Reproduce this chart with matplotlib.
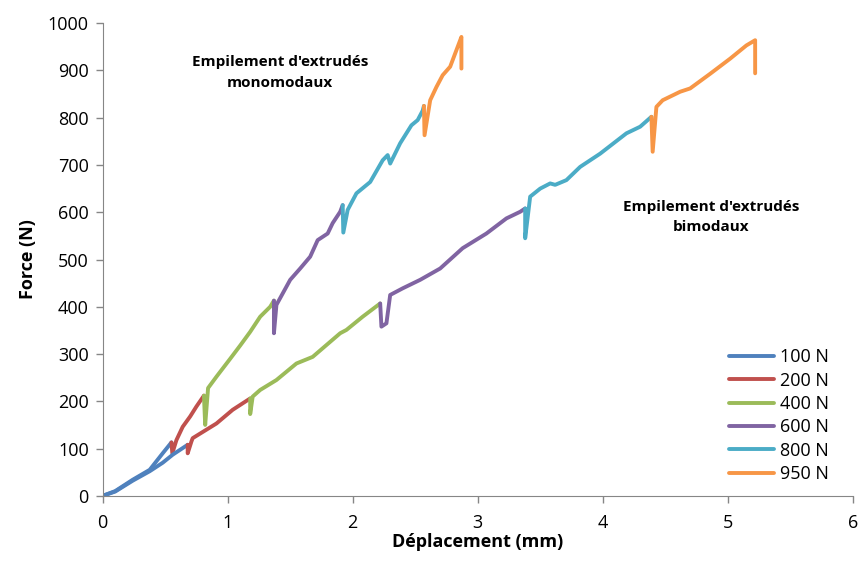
import matplotlib
matplotlib.use('Agg')
import matplotlib.pyplot as plt

# Palette Excel 2010
labels = ['100 N', '200 N', '400 N', '600 N', '800 N', '950 N']
colors = ['#4F81BD', '#C0504D', '#9BBB59', '#8064A2', '#4BACC6', '#F79646']

# Empilement d'extrudés monomodaux (une série par palier de charge)
mono_x = [
    [0.0, 0.10, 0.24, 0.376, 0.48, 0.55],
    [0.557, 0.59, 0.64, 0.70, 0.75, 0.81],
    [0.82, 0.843, 0.91, 1.02, 1.10, 1.18, 1.26, 1.34, 1.37],
    [1.37, 1.39, 1.50, 1.58, 1.66, 1.72, 1.80, 1.84, 1.90, 1.92],
    [1.925, 1.96, 2.03, 2.14, 2.24, 2.28, 2.30, 2.38, 2.47, 2.52, 2.56, 2.57],
    [2.575, 2.62, 2.67, 2.72, 2.78, 2.82, 2.86, 2.87, 2.87],
]
mono_y = [
    [0, 10, 34, 55, 90, 113],
    [90, 118, 146, 168, 189, 212],
    [150, 228, 252, 290, 318, 347, 379, 400, 413],
    [344, 404, 457, 481, 506, 541, 555, 577, 601, 615],
    [557, 605, 640, 664, 710, 721, 703, 746, 784, 795, 815, 825],
    [763, 837, 865, 890, 908, 936, 964, 971, 904],
]

# Empilement d'extrudés bimodaux
bi_x = [
    [0.0, 0.10, 0.24, 0.376, 0.48, 0.56, 0.68],
    [0.68, 0.71, 0.72, 0.91, 1.04, 1.18],
    [1.18, 1.20, 1.26, 1.39, 1.55, 1.68, 1.90, 1.95, 2.08, 2.22],
    [2.23, 2.27, 2.30, 2.40, 2.54, 2.70, 2.88, 3.07, 3.23, 3.34, 3.38],
    [3.38, 3.42, 3.50, 3.58, 3.62, 3.71, 3.82, 3.98, 4.19, 4.30, 4.39],
    [4.40, 4.43, 4.48, 4.62, 4.70, 4.86, 5.02, 5.15, 5.22, 5.22],
]
bi_y = [
    [0, 9, 32, 52, 70, 87, 108],
    [90, 115, 122, 153, 182, 206],
    [173, 210, 224, 245, 280, 294, 344, 351, 379, 407],
    [358, 365, 425, 439, 457, 481, 524, 555, 587, 601, 608],
    [545, 633, 650, 661, 658, 668, 696, 724, 767, 781, 802],
    [728, 823, 837, 855, 862, 893, 925, 953, 964, 894],
]

plt.rcParams['font.family'] = ['Open Sans', 'DejaVu Sans']

fig = plt.figure(figsize=(8.63, 5.66), dpi=100)
ax = fig.add_axes([0.119, 0.124, 0.869, 0.835])

lw = 2.8
for xs, ys in [(mono_x, mono_y), (bi_x, bi_y)]:
    for i in range(len(xs)):
        px, py = list(xs[i]), list(ys[i])
        if i > 0:
            # la chute verticale est tracée dans la couleur du palier suivant
            px = [xs[i - 1][-1]] + px
            py = [ys[i - 1][-1]] + py
        ax.plot(px, py, color=colors[i], lw=lw, solid_capstyle='round',
                solid_joinstyle='round',
                label=labels[i] if xs is mono_x else None)

ax.set_xlim(0, 6)
ax.set_ylim(0, 1000)
ax.set_xticks(range(0, 7))
ax.set_yticks(range(0, 1001, 100))
ax.tick_params(axis='both', labelsize=13, color='#868686', length=5, width=1,
               direction='out')
ax.tick_params(axis='x', pad=8)
ax.tick_params(axis='y', pad=5)
for s in ['top', 'right']:
    ax.spines[s].set_visible(False)
for s in ['left', 'bottom']:
    ax.spines[s].set_color('#868686')

ax.set_xlabel('Déplacement (mm)', fontsize=13, fontweight='bold', labelpad=1)
ax.set_ylabel('Force (N)', fontsize=13, fontweight='bold', labelpad=8)

ax.text(1.42, 896, "Empilement d'extrudés\nmonomodaux", ha='center', va='center',
        fontsize=11, fontweight='bold', linespacing=1.6)
ax.text(4.87, 590, "Empilement d'extrudés\nbimodaux", ha='center', va='center',
        fontsize=11, fontweight='bold', linespacing=1.6)

leg = ax.legend(loc='lower right', bbox_to_anchor=(0.985, 0.0), frameon=False,
                fontsize=13, handlelength=2.5, handletextpad=0.3,
                labelspacing=0.3, borderaxespad=0.3)

fig.savefig('out.png', dpi=100)
